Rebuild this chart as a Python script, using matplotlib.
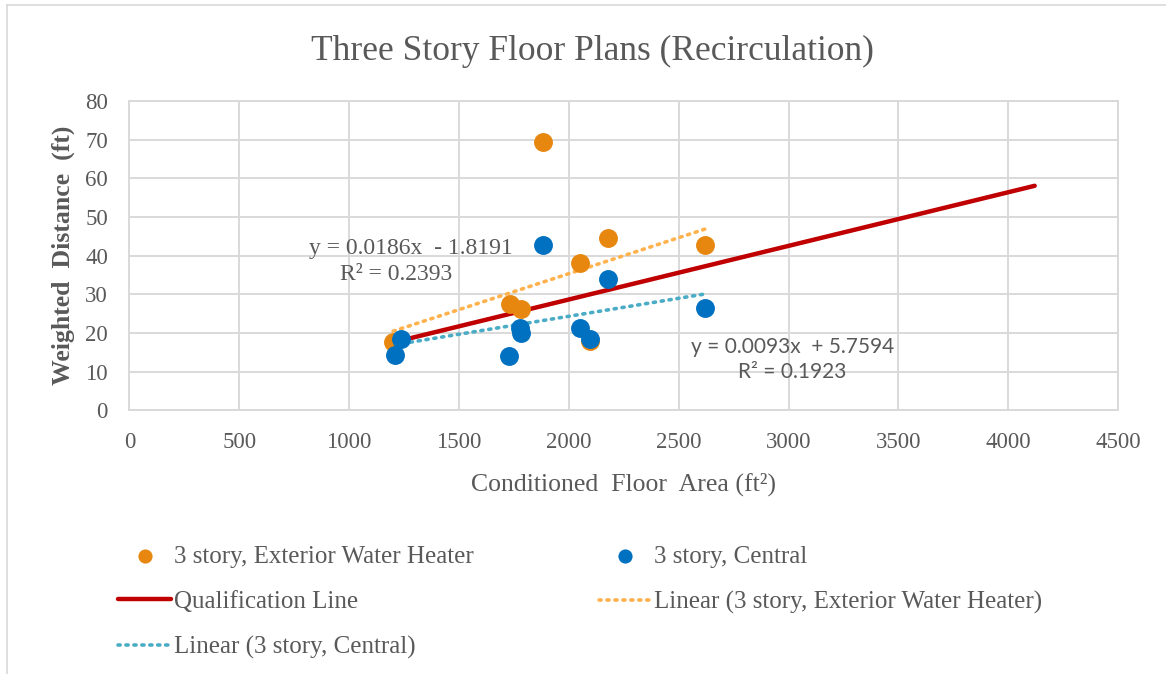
import matplotlib.pyplot as plt
from matplotlib.lines import Line2D

# data
ext_area = [1880, 2177, 2621, 2052, 1730, 1783, 2095, 1200]
ext_dist = [69.5, 44.7, 42.7, 38.2, 27.6, 26.3, 18.0, 17.6]
cen_area = [1880, 2177, 2621, 2052, 2095, 1779, 1783, 1727, 1237, 1207]
cen_dist = [42.7, 33.9, 26.5, 21.2, 18.6, 21.4, 20.1, 14.2, 18.4, 14.4]
qual_area = [1200, 4120]
qual_dist = [17.6, 58.1]
ext_fit = (0.0186, -1.8191, 0.2393)
cen_fit = (0.0093, 5.7594, 0.1923)

c_ext = '#E8870F'
c_cen = '#0070C0'
c_qual = '#C00000'
c_ext_fit = '#FFB24D'
c_cen_fit = '#4BACC6'
grey = '#595959'
serif = ['Liberation Serif', 'DejaVu Serif']

plt.rcParams['font.family'] = serif

fig = plt.figure(figsize=(11.66, 6.74), dpi=100)
ax = fig.add_axes([0.111, 0.391, 0.848, 0.459])

ax.plot(qual_area, qual_dist, color=c_qual, lw=3.2, solid_capstyle='round', zorder=2,
        label='Qualification Line')

def trend(xs, fit):
    x0, x1 = min(xs), max(xs)
    return [x0, x1], [fit[0] * x0 + fit[1], fit[0] * x1 + fit[1]]

tx, ty = trend(ext_area, ext_fit)
ax.plot(tx, ty, color=c_ext_fit, lw=2.6, ls=(0, (0.6, 1.6)), dash_capstyle='round',
        zorder=3, label='Linear (3 story, Exterior Water Heater)')
tx, ty = trend(cen_area, cen_fit)
ax.plot(tx, ty, color=c_cen_fit, lw=2.6, ls=(0, (0.6, 1.6)), dash_capstyle='round',
        zorder=3, label='Linear (3 story, Central)')

ax.scatter(ext_area, ext_dist, s=185, color=c_ext, zorder=4, linewidths=0,
           label='3 story, Exterior Water Heater')
ax.scatter(cen_area, cen_dist, s=185, color=c_cen, zorder=5, linewidths=0,
           label='3 story, Central')

ax.set_xlim(0, 4500)
ax.set_ylim(0, 80)
ax.set_xticks(range(0, 4501, 500))
ax.set_yticks(range(0, 81, 10))
ax.grid(True, color='#D9D9D9', lw=1.4)
ax.set_axisbelow(True)
for s in ax.spines.values():
    s.set_color('#D9D9D9')
    s.set_linewidth(1.4)
ax.tick_params(length=0, labelsize=16.5, colors=grey, pad=15.5)

fig.text(0.508, 0.924, 'Three Story Floor Plans (Recirculation)', ha='center', va='center',
         fontsize=25.5, color=grey)
ax.set_xlabel('Conditioned  Floor  Area (ft²)', fontsize=18.5, color=grey, labelpad=14)
ax.set_ylabel('Weighted  Distance  (ft)', fontsize=18.5, color=grey, fontweight='bold',
              labelpad=7)

ax.text(1281, 42.0, 'y = %.4fx  - %.4f' % (ext_fit[0], -ext_fit[1]), ha='center', va='center',
        fontsize=17, color=grey)
ax.text(1212, 35.2, 'R² = %.4f' % ext_fit[2], ha='center', va='center', fontsize=17, color=grey)
ax.text(3018, 16.4, 'y = %.4fx  + %.4f' % (cen_fit[0], cen_fit[1]), ha='center', va='center',
        fontsize=15, color=grey, family='Lato')
ax.text(3018, 10.0, 'R² = %.4f' % cen_fit[2], ha='center', va='center', fontsize=15,
        color=grey, family='Lato')

h, l = ax.get_legend_handles_labels()
handles = [h[3], h[0], h[2], h[4], h[1]]
labels = [l[3], l[0], l[2], l[4], l[1]]
leg = fig.legend(handles, labels, ncol=2, loc='upper left', bbox_to_anchor=(0.093, 0.206),
                 frameon=False, fontsize=18, markerscale=0.75, handlelength=2.1,
                 handletextpad=0.12, columnspacing=5.0, labelspacing=0.92, borderaxespad=0)
for t in leg.get_texts():
    t.set_color(grey)

# outer chart border
fig.add_artist(Line2D([0.006, 0.006], [0, 0.993], color='#D9D9D9', lw=1.2))
fig.add_artist(Line2D([0.006, 1], [0.993, 0.993], color='#D9D9D9', lw=1.2))

fig.savefig('out.png', dpi=100, facecolor='white')
